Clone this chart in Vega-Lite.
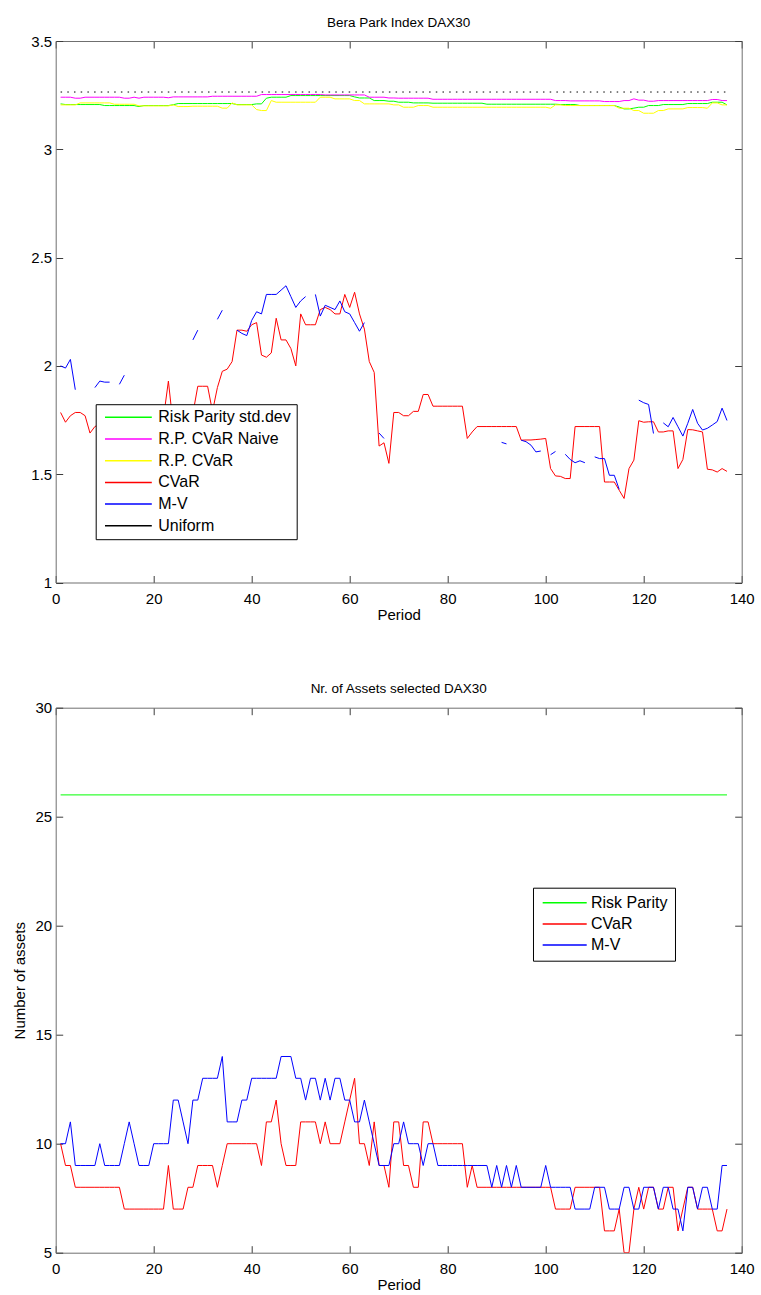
{
  "$schema": "https://vega.github.io/schema/vega-lite/v6.json",
  "background": "white",
  "padding": {"left": 11.7, "top": 15, "right": 5, "bottom": 0},
  "config": {
    "font": "Liberation Sans",
    "view": {"stroke": null},
    "axis": {"grid": false, "domainColor": "#6e6e6e", "tickColor": "#3c3c3c", "tickSize": -7, "labelFont": "Liberation Sans", "labelFontSize": 15, "labelColor": "#000000", "titleFont": "Liberation Sans", "titleFontSize": 15, "titleFontWeight": "normal", "titleColor": "#000000", "labelFlush": false, "labelPadding": 11},
    "axisX": {"labelPadding": 16, "titlePadding": 1},
    "axisY": {"titlePadding": 8},
    "title": {"font": "Liberation Sans", "fontSize": 13.5, "fontWeight": "normal", "color": "#000000", "offset": 5, "anchor": "middle", "frame": "group"},
    "legend": {"strokeColor": "#000000", "fillColor": "#ffffff", "labelFont": "Liberation Sans", "labelFontSize": 16, "labelColor": "#000000", "symbolSize": 144, "symbolStrokeWidth": 1.5}
  },
  "spacing": 58.7,
  "resolve": {"scale": {"color": "independent"}},
  "vconcat": [
    {
      "width": 686,
      "height": 541.5,
      "title": {"text": "Bera Park Index DAX30"},
      "data": {"values": [
        {"p":1,"RP":3.2097,"RPN":3.2405,"RPC":3.2051,"CVaR":1.785,"MV":2.0},
        {"p":2,"RP":3.2066,"RPN":3.2405,"RPC":3.2051,"CVaR":1.74,"MV":1.99},
        {"p":3,"RP":3.2066,"RPN":3.2405,"RPC":3.2051,"CVaR":1.77,"MV":2.03},
        {"p":4,"RP":3.2066,"RPN":3.236,"RPC":3.2051,"CVaR":1.785,"MV":1.89},
        {"p":5,"RP":3.2066,"RPN":3.236,"RPC":3.2143,"CVaR":1.785,"MV":null},
        {"p":6,"RP":3.2066,"RPN":3.2405,"RPC":3.2143,"CVaR":1.77,"MV":null},
        {"p":7,"RP":3.2066,"RPN":3.2405,"RPC":3.2143,"CVaR":1.69,"MV":null},
        {"p":8,"RP":3.2066,"RPN":3.2405,"RPC":3.2143,"CVaR":1.72,"MV":1.9},
        {"p":9,"RP":3.2066,"RPN":3.2405,"RPC":3.2143,"CVaR":1.73,"MV":1.93},
        {"p":10,"RP":3.202,"RPN":3.2405,"RPC":3.2143,"CVaR":1.75,"MV":1.925},
        {"p":11,"RP":3.202,"RPN":3.2405,"RPC":3.2143,"CVaR":1.76,"MV":1.925},
        {"p":12,"RP":3.202,"RPN":3.2405,"RPC":3.208,"CVaR":1.76,"MV":null},
        {"p":13,"RP":3.202,"RPN":3.2405,"RPC":3.208,"CVaR":1.76,"MV":1.915},
        {"p":14,"RP":3.202,"RPN":3.236,"RPC":3.208,"CVaR":1.74,"MV":1.957},
        {"p":15,"RP":3.202,"RPN":3.236,"RPC":3.208,"CVaR":1.72,"MV":null},
        {"p":16,"RP":3.202,"RPN":3.2405,"RPC":3.208,"CVaR":1.72,"MV":null},
        {"p":17,"RP":3.1974,"RPN":3.236,"RPC":3.2005,"CVaR":1.74,"MV":null},
        {"p":18,"RP":3.202,"RPN":3.2405,"RPC":3.2005,"CVaR":1.76,"MV":null},
        {"p":19,"RP":3.202,"RPN":3.2405,"RPC":3.2005,"CVaR":1.76,"MV":null},
        {"p":20,"RP":3.202,"RPN":3.2405,"RPC":3.2005,"CVaR":1.76,"MV":null},
        {"p":21,"RP":3.202,"RPN":3.2405,"RPC":3.2005,"CVaR":1.74,"MV":null},
        {"p":22,"RP":3.202,"RPN":3.2405,"RPC":3.2005,"CVaR":1.76,"MV":null},
        {"p":23,"RP":3.202,"RPN":3.238,"RPC":3.2005,"CVaR":1.93,"MV":null},
        {"p":24,"RP":3.206,"RPN":3.242,"RPC":3.2051,"CVaR":1.72,"MV":null},
        {"p":25,"RP":3.2113,"RPN":3.242,"RPC":3.1974,"CVaR":1.72,"MV":null},
        {"p":26,"RP":3.2113,"RPN":3.242,"RPC":3.1974,"CVaR":1.75,"MV":null},
        {"p":27,"RP":3.2113,"RPN":3.242,"RPC":3.1974,"CVaR":1.78,"MV":null},
        {"p":28,"RP":3.2113,"RPN":3.242,"RPC":3.199,"CVaR":1.78,"MV":2.12},
        {"p":29,"RP":3.2113,"RPN":3.242,"RPC":3.199,"CVaR":1.906,"MV":2.165},
        {"p":30,"RP":3.2113,"RPN":3.242,"RPC":3.199,"CVaR":1.906,"MV":null},
        {"p":31,"RP":3.2113,"RPN":3.242,"RPC":3.199,"CVaR":1.906,"MV":null},
        {"p":32,"RP":3.2113,"RPN":3.245,"RPC":3.199,"CVaR":1.79,"MV":null},
        {"p":33,"RP":3.2113,"RPN":3.245,"RPC":3.199,"CVaR":1.9,"MV":2.215},
        {"p":34,"RP":3.2113,"RPN":3.245,"RPC":3.19,"CVaR":1.975,"MV":2.257},
        {"p":35,"RP":3.2113,"RPN":3.245,"RPC":3.19,"CVaR":1.985,"MV":null},
        {"p":36,"RP":3.2113,"RPN":3.245,"RPC":3.2143,"CVaR":2.02,"MV":null},
        {"p":37,"RP":3.2066,"RPN":3.245,"RPC":3.2051,"CVaR":2.165,"MV":2.165},
        {"p":38,"RP":3.2066,"RPN":3.245,"RPC":3.2051,"CVaR":2.165,"MV":2.15},
        {"p":39,"RP":3.2066,"RPN":3.245,"RPC":3.2051,"CVaR":2.16,"MV":2.14},
        {"p":40,"RP":3.2066,"RPN":3.245,"RPC":3.2051,"CVaR":2.19,"MV":2.21},
        {"p":41,"RP":3.2097,"RPN":3.245,"RPC":3.1835,"CVaR":2.2,"MV":2.25},
        {"p":42,"RP":3.2097,"RPN":3.2528,"RPC":3.1789,"CVaR":2.05,"MV":2.24},
        {"p":43,"RP":3.236,"RPN":3.2528,"RPC":3.1789,"CVaR":2.04,"MV":2.33},
        {"p":44,"RP":3.2405,"RPN":3.2528,"RPC":3.2251,"CVaR":2.06,"MV":2.33},
        {"p":45,"RP":3.2405,"RPN":3.2528,"RPC":3.2174,"CVaR":2.22,"MV":2.33},
        {"p":46,"RP":3.2405,"RPN":3.2528,"RPC":3.2174,"CVaR":2.12,"MV":2.35},
        {"p":47,"RP":3.2405,"RPN":3.2528,"RPC":3.2174,"CVaR":2.12,"MV":2.37},
        {"p":48,"RP":3.2482,"RPN":3.2528,"RPC":3.2174,"CVaR":2.08,"MV":2.32},
        {"p":49,"RP":3.2482,"RPN":3.2528,"RPC":3.2174,"CVaR":2.0,"MV":2.27},
        {"p":50,"RP":3.2482,"RPN":3.2528,"RPC":3.2174,"CVaR":2.24,"MV":2.3},
        {"p":51,"RP":3.2482,"RPN":3.2528,"RPC":3.2174,"CVaR":2.19,"MV":2.32},
        {"p":52,"RP":3.2482,"RPN":3.2528,"RPC":3.2174,"CVaR":2.19,"MV":null},
        {"p":53,"RP":3.2482,"RPN":3.2528,"RPC":3.2174,"CVaR":2.19,"MV":2.33},
        {"p":54,"RP":3.2482,"RPN":3.2528,"RPC":3.2405,"CVaR":2.26,"MV":2.23},
        {"p":55,"RP":3.2482,"RPN":3.251,"RPC":3.2405,"CVaR":2.27,"MV":2.28},
        {"p":56,"RP":3.2482,"RPN":3.251,"RPC":3.2405,"CVaR":2.26,"MV":2.27},
        {"p":57,"RP":3.2482,"RPN":3.251,"RPC":3.2328,"CVaR":2.24,"MV":2.26},
        {"p":58,"RP":3.2482,"RPN":3.251,"RPC":3.2328,"CVaR":2.24,"MV":2.3},
        {"p":59,"RP":3.2482,"RPN":3.251,"RPC":3.2328,"CVaR":2.33,"MV":2.25},
        {"p":60,"RP":3.2482,"RPN":3.251,"RPC":3.2328,"CVaR":2.27,"MV":2.24},
        {"p":61,"RP":3.242,"RPN":3.251,"RPC":3.2251,"CVaR":2.34,"MV":2.2},
        {"p":62,"RP":3.237,"RPN":3.251,"RPC":3.2251,"CVaR":2.24,"MV":2.16},
        {"p":63,"RP":3.237,"RPN":3.251,"RPC":3.2097,"CVaR":2.17,"MV":2.2},
        {"p":64,"RP":3.237,"RPN":3.2405,"RPC":3.2097,"CVaR":2.02,"MV":null},
        {"p":65,"RP":3.2251,"RPN":3.2405,"RPC":3.2097,"CVaR":1.97,"MV":null},
        {"p":66,"RP":3.2251,"RPN":3.2405,"RPC":3.2097,"CVaR":1.63,"MV":1.69},
        {"p":67,"RP":3.2251,"RPN":3.2405,"RPC":3.2097,"CVaR":1.645,"MV":1.665},
        {"p":68,"RP":3.222,"RPN":3.237,"RPC":3.2097,"CVaR":1.55,"MV":null},
        {"p":69,"RP":3.222,"RPN":3.237,"RPC":3.2051,"CVaR":1.785,"MV":null},
        {"p":70,"RP":3.2174,"RPN":3.236,"RPC":3.2051,"CVaR":1.785,"MV":null},
        {"p":71,"RP":3.2174,"RPN":3.236,"RPC":3.1943,"CVaR":1.77,"MV":null},
        {"p":72,"RP":3.2174,"RPN":3.236,"RPC":3.1943,"CVaR":1.77,"MV":null},
        {"p":73,"RP":3.2143,"RPN":3.236,"RPC":3.1943,"CVaR":1.79,"MV":null},
        {"p":74,"RP":3.2143,"RPN":3.236,"RPC":3.202,"CVaR":1.79,"MV":null},
        {"p":75,"RP":3.2143,"RPN":3.236,"RPC":3.202,"CVaR":1.868,"MV":null},
        {"p":76,"RP":3.2143,"RPN":3.236,"RPC":3.202,"CVaR":1.868,"MV":null},
        {"p":77,"RP":3.2128,"RPN":3.231,"RPC":3.1943,"CVaR":1.814,"MV":null},
        {"p":78,"RP":3.2128,"RPN":3.231,"RPC":3.1943,"CVaR":1.814,"MV":null},
        {"p":79,"RP":3.2128,"RPN":3.231,"RPC":3.1943,"CVaR":1.814,"MV":null},
        {"p":80,"RP":3.2128,"RPN":3.231,"RPC":3.1943,"CVaR":1.814,"MV":null},
        {"p":81,"RP":3.2128,"RPN":3.231,"RPC":3.1943,"CVaR":1.814,"MV":null},
        {"p":82,"RP":3.2128,"RPN":3.231,"RPC":3.1943,"CVaR":1.814,"MV":null},
        {"p":83,"RP":3.2128,"RPN":3.231,"RPC":3.1943,"CVaR":1.814,"MV":null},
        {"p":84,"RP":3.2128,"RPN":3.231,"RPC":3.1943,"CVaR":1.665,"MV":null},
        {"p":85,"RP":3.2128,"RPN":3.231,"RPC":3.1943,"CVaR":1.695,"MV":null},
        {"p":86,"RP":3.2128,"RPN":3.231,"RPC":3.1943,"CVaR":1.72,"MV":null},
        {"p":87,"RP":3.2128,"RPN":3.231,"RPC":3.1943,"CVaR":1.72,"MV":null},
        {"p":88,"RP":3.2082,"RPN":3.231,"RPC":3.1943,"CVaR":1.72,"MV":null},
        {"p":89,"RP":3.2082,"RPN":3.231,"RPC":3.1943,"CVaR":1.72,"MV":null},
        {"p":90,"RP":3.2082,"RPN":3.231,"RPC":3.1943,"CVaR":1.72,"MV":null},
        {"p":91,"RP":3.2082,"RPN":3.231,"RPC":3.1943,"CVaR":1.72,"MV":1.647},
        {"p":92,"RP":3.2082,"RPN":3.231,"RPC":3.1943,"CVaR":1.72,"MV":1.64},
        {"p":93,"RP":3.2082,"RPN":3.231,"RPC":3.1943,"CVaR":1.72,"MV":null},
        {"p":94,"RP":3.2082,"RPN":3.231,"RPC":3.1943,"CVaR":1.72,"MV":null},
        {"p":95,"RP":3.2082,"RPN":3.231,"RPC":3.1943,"CVaR":1.657,"MV":1.657},
        {"p":96,"RP":3.2082,"RPN":3.231,"RPC":3.1943,"CVaR":1.658,"MV":1.65},
        {"p":97,"RP":3.2082,"RPN":3.231,"RPC":3.1943,"CVaR":1.658,"MV":1.634},
        {"p":98,"RP":3.2082,"RPN":3.231,"RPC":3.1943,"CVaR":1.66,"MV":1.603},
        {"p":99,"RP":3.2082,"RPN":3.231,"RPC":3.1943,"CVaR":1.662,"MV":1.607},
        {"p":100,"RP":3.2082,"RPN":3.231,"RPC":3.1943,"CVaR":1.665,"MV":null},
        {"p":101,"RP":3.2082,"RPN":3.231,"RPC":3.1897,"CVaR":1.526,"MV":1.59},
        {"p":102,"RP":3.2082,"RPN":3.225,"RPC":3.2051,"CVaR":1.492,"MV":1.605},
        {"p":103,"RP":3.2066,"RPN":3.225,"RPC":3.2051,"CVaR":1.49,"MV":null},
        {"p":104,"RP":3.2066,"RPN":3.225,"RPC":3.202,"CVaR":1.48,"MV":1.592},
        {"p":105,"RP":3.2066,"RPN":3.2236,"RPC":3.202,"CVaR":1.48,"MV":1.568},
        {"p":106,"RP":3.2066,"RPN":3.2236,"RPC":3.202,"CVaR":1.72,"MV":1.553},
        {"p":107,"RP":3.202,"RPN":3.2236,"RPC":3.202,"CVaR":1.72,"MV":1.562},
        {"p":108,"RP":3.202,"RPN":3.2236,"RPC":3.202,"CVaR":1.72,"MV":1.553},
        {"p":109,"RP":3.202,"RPN":3.2236,"RPC":3.202,"CVaR":1.72,"MV":null},
        {"p":110,"RP":3.202,"RPN":3.2236,"RPC":3.202,"CVaR":1.72,"MV":1.58},
        {"p":111,"RP":3.202,"RPN":3.2236,"RPC":3.202,"CVaR":1.72,"MV":1.572},
        {"p":112,"RP":3.202,"RPN":3.2205,"RPC":3.202,"CVaR":1.464,"MV":1.572},
        {"p":113,"RP":3.202,"RPN":3.2205,"RPC":3.202,"CVaR":1.464,"MV":1.495},
        {"p":114,"RP":3.202,"RPN":3.2205,"RPC":3.202,"CVaR":1.464,"MV":1.495},
        {"p":115,"RP":3.195,"RPN":3.2205,"RPC":3.1897,"CVaR":1.426,"MV":1.43},
        {"p":116,"RP":3.1866,"RPN":3.225,"RPC":3.1897,"CVaR":1.388,"MV":null},
        {"p":117,"RP":3.1866,"RPN":3.225,"RPC":3.1897,"CVaR":1.526,"MV":null},
        {"p":118,"RP":3.19,"RPN":3.233,"RPC":3.1789,"CVaR":1.565,"MV":null},
        {"p":119,"RP":3.1943,"RPN":3.227,"RPC":3.1789,"CVaR":1.747,"MV":1.842},
        {"p":120,"RP":3.1943,"RPN":3.227,"RPC":3.1666,"CVaR":1.74,"MV":1.83},
        {"p":121,"RP":3.202,"RPN":3.222,"RPC":3.1666,"CVaR":1.742,"MV":1.822},
        {"p":122,"RP":3.202,"RPN":3.222,"RPC":3.1666,"CVaR":1.742,"MV":1.688},
        {"p":123,"RP":3.202,"RPN":3.225,"RPC":3.1789,"CVaR":1.695,"MV":null},
        {"p":124,"RP":3.2066,"RPN":3.225,"RPC":3.1789,"CVaR":1.695,"MV":1.737},
        {"p":125,"RP":3.2066,"RPN":3.225,"RPC":3.1866,"CVaR":1.7,"MV":1.719},
        {"p":126,"RP":3.2066,"RPN":3.225,"RPC":3.1866,"CVaR":1.7,"MV":1.762},
        {"p":127,"RP":3.2066,"RPN":3.225,"RPC":3.1866,"CVaR":1.526,"MV":1.719},
        {"p":128,"RP":3.2066,"RPN":3.225,"RPC":3.1866,"CVaR":1.568,"MV":1.676},
        {"p":129,"RP":3.2113,"RPN":3.225,"RPC":3.1928,"CVaR":1.706,"MV":1.735},
        {"p":130,"RP":3.2113,"RPN":3.225,"RPC":3.1928,"CVaR":1.705,"MV":1.799},
        {"p":131,"RP":3.2113,"RPN":3.225,"RPC":3.1928,"CVaR":1.7,"MV":1.735},
        {"p":132,"RP":3.2113,"RPN":3.225,"RPC":3.1928,"CVaR":1.695,"MV":1.704},
        {"p":133,"RP":3.2113,"RPN":3.225,"RPC":3.1897,"CVaR":1.523,"MV":1.712},
        {"p":134,"RP":3.2174,"RPN":3.23,"RPC":3.2143,"CVaR":1.52,"MV":1.727},
        {"p":135,"RP":3.2174,"RPN":3.23,"RPC":3.2143,"CVaR":1.51,"MV":1.743},
        {"p":136,"RP":3.2174,"RPN":3.225,"RPC":3.2051,"CVaR":1.526,"MV":1.805},
        {"p":137,"RP":3.2051,"RPN":3.225,"RPC":3.2051,"CVaR":1.513,"MV":1.748}
      ]},
      "layer": [
        {
          "transform": [{"fold": ["RP", "RPN", "RPC", "CVaR", "MV"], "as": ["series", "value"]}],
          "mark": {"type": "line", "strokeWidth": 1, "clip": true},
          "encoding": {
            "x": {"field": "p", "type": "quantitative", "scale": {"domain": [0, 140], "nice": false}, "axis": {"values": [0, 20, 40, 60, 80, 100, 120, 140], "title": "Period"}},
            "y": {"field": "value", "type": "quantitative", "scale": {"domain": [1, 3.5], "nice": false, "zero": false}, "axis": {"values": [1, 1.5, 2, 2.5, 3, 3.5], "format": "~g", "title": null}},
            "color": {"field": "series", "type": "nominal",
              "scale": {"domain": ["RP", "RPN", "RPC", "CVaR", "MV", "U"], "range": ["#00ff00", "#ff00ff", "#ffff00", "#ff0000", "#0000ff", "#000000"]},
              "legend": {"title": null, "orient": "none", "legendX": 40, "legendY": 363.2, "padding": 5.1, "rowPadding": 5.7, "symbolType": "M-3.9,0H3.9", "symbolOffset": 19.6, "labelOffset": 21.9,
                "labelExpr": "{'RP':'Risk Parity std.dev','RPN':'R.P. CVaR Naive','RPC':'R.P. CVaR','CVaR':'CVaR','MV':'M-V','U':'Uniform'}[datum.label]"}}
          }
        },
        {
          "data": {"values": [{"p": 1, "series": "U", "value": 3.2645}, {"p": 137, "series": "U", "value": 3.2645}]},
          "mark": {"type": "line", "strokeWidth": 1, "strokeDash": [1.5, 5.2]},
          "encoding": {
            "x": {"field": "p", "type": "quantitative", "axis": {"orient": "top", "values": [0, 20, 40, 60, 80, 100, 120, 140], "labels": false, "title": null}},
            "y": {"field": "value", "type": "quantitative", "axis": {"orient": "right", "values": [1, 1.5, 2, 2.5, 3, 3.5], "labels": false, "title": null}},
            "color": {"field": "series", "type": "nominal"}
          }
        }
      ],
      "resolve": {"axis": {"x": "independent", "y": "independent"}}
    },
    {
      "width": 686,
      "height": 545,
      "title": {"text": "Nr. of Assets selected DAX30"},
      "data": {"values": [
        {"p":1,"CVaR":10,"MV":10},{"p":2,"CVaR":9,"MV":10},{"p":3,"CVaR":9,"MV":11},{"p":4,"CVaR":8,"MV":9},
        {"p":5,"CVaR":8,"MV":9},{"p":6,"CVaR":8,"MV":9},{"p":7,"CVaR":8,"MV":9},{"p":8,"CVaR":8,"MV":9},
        {"p":9,"CVaR":8,"MV":10},{"p":10,"CVaR":8,"MV":9},{"p":11,"CVaR":8,"MV":9},{"p":12,"CVaR":8,"MV":9},
        {"p":13,"CVaR":8,"MV":9},{"p":14,"CVaR":7,"MV":10},{"p":15,"CVaR":7,"MV":11},{"p":16,"CVaR":7,"MV":10},
        {"p":17,"CVaR":7,"MV":9},{"p":18,"CVaR":7,"MV":9},{"p":19,"CVaR":7,"MV":9},{"p":20,"CVaR":7,"MV":10},
        {"p":21,"CVaR":7,"MV":10},{"p":22,"CVaR":7,"MV":10},{"p":23,"CVaR":9,"MV":10},{"p":24,"CVaR":7,"MV":12},
        {"p":25,"CVaR":7,"MV":12},{"p":26,"CVaR":7,"MV":11},{"p":27,"CVaR":8,"MV":10},{"p":28,"CVaR":8,"MV":12},
        {"p":29,"CVaR":9,"MV":12},{"p":30,"CVaR":9,"MV":13},{"p":31,"CVaR":9,"MV":13},{"p":32,"CVaR":9,"MV":13},
        {"p":33,"CVaR":8,"MV":13},{"p":34,"CVaR":9,"MV":14},{"p":35,"CVaR":10,"MV":11},{"p":36,"CVaR":10,"MV":11},
        {"p":37,"CVaR":10,"MV":11},{"p":38,"CVaR":10,"MV":12},{"p":39,"CVaR":10,"MV":12},{"p":40,"CVaR":10,"MV":13},
        {"p":41,"CVaR":10,"MV":13},{"p":42,"CVaR":9,"MV":13},{"p":43,"CVaR":11,"MV":13},{"p":44,"CVaR":11,"MV":13},
        {"p":45,"CVaR":12,"MV":13},{"p":46,"CVaR":10,"MV":14},{"p":47,"CVaR":9,"MV":14},{"p":48,"CVaR":9,"MV":14},
        {"p":49,"CVaR":9,"MV":13},{"p":50,"CVaR":11,"MV":13},{"p":51,"CVaR":11,"MV":12},{"p":52,"CVaR":11,"MV":13},
        {"p":53,"CVaR":11,"MV":13},{"p":54,"CVaR":10,"MV":12},{"p":55,"CVaR":11,"MV":13},{"p":56,"CVaR":10,"MV":12},
        {"p":57,"CVaR":10,"MV":13},{"p":58,"CVaR":10,"MV":13},{"p":59,"CVaR":11,"MV":12},{"p":60,"CVaR":12,"MV":12},
        {"p":61,"CVaR":13,"MV":11},{"p":62,"CVaR":10,"MV":11},{"p":63,"CVaR":10,"MV":12},{"p":64,"CVaR":9,"MV":11},
        {"p":65,"CVaR":11,"MV":10},{"p":66,"CVaR":9,"MV":9},{"p":67,"CVaR":9,"MV":9},{"p":68,"CVaR":8,"MV":9},
        {"p":69,"CVaR":11,"MV":10},{"p":70,"CVaR":11,"MV":10},{"p":71,"CVaR":9,"MV":11},{"p":72,"CVaR":9,"MV":10},
        {"p":73,"CVaR":8,"MV":10},{"p":74,"CVaR":8,"MV":10},{"p":75,"CVaR":11,"MV":9},{"p":76,"CVaR":11,"MV":10},
        {"p":77,"CVaR":10,"MV":10},{"p":78,"CVaR":10,"MV":9},{"p":79,"CVaR":10,"MV":9},{"p":80,"CVaR":10,"MV":9},
        {"p":81,"CVaR":10,"MV":9},{"p":82,"CVaR":10,"MV":9},{"p":83,"CVaR":10,"MV":9},{"p":84,"CVaR":8,"MV":9},
        {"p":85,"CVaR":9,"MV":9},{"p":86,"CVaR":8,"MV":9},{"p":87,"CVaR":8,"MV":9},{"p":88,"CVaR":8,"MV":9},
        {"p":89,"CVaR":8,"MV":8},{"p":90,"CVaR":8,"MV":9},{"p":91,"CVaR":8,"MV":8},{"p":92,"CVaR":8,"MV":9},
        {"p":93,"CVaR":8,"MV":8},{"p":94,"CVaR":8,"MV":9},{"p":95,"CVaR":8,"MV":8},{"p":96,"CVaR":8,"MV":8},
        {"p":97,"CVaR":8,"MV":8},{"p":98,"CVaR":8,"MV":8},{"p":99,"CVaR":8,"MV":8},{"p":100,"CVaR":8,"MV":9},
        {"p":101,"CVaR":8,"MV":8},{"p":102,"CVaR":7,"MV":8},{"p":103,"CVaR":7,"MV":8},{"p":104,"CVaR":7,"MV":8},
        {"p":105,"CVaR":7,"MV":8},{"p":106,"CVaR":8,"MV":7},{"p":107,"CVaR":8,"MV":7},{"p":108,"CVaR":8,"MV":7},
        {"p":109,"CVaR":8,"MV":7},{"p":110,"CVaR":8,"MV":8},{"p":111,"CVaR":8,"MV":8},{"p":112,"CVaR":6,"MV":8},
        {"p":113,"CVaR":6,"MV":7},{"p":114,"CVaR":6,"MV":7},{"p":115,"CVaR":7,"MV":7},{"p":116,"CVaR":5,"MV":8},
        {"p":117,"CVaR":5,"MV":8},{"p":118,"CVaR":7,"MV":7},{"p":119,"CVaR":8,"MV":7},{"p":120,"CVaR":7,"MV":8},
        {"p":121,"CVaR":8,"MV":8},{"p":122,"CVaR":8,"MV":8},{"p":123,"CVaR":7,"MV":7},{"p":124,"CVaR":7,"MV":8},
        {"p":125,"CVaR":8,"MV":8},{"p":126,"CVaR":8,"MV":7},{"p":127,"CVaR":6,"MV":7},{"p":128,"CVaR":7,"MV":6},
        {"p":129,"CVaR":8,"MV":8},{"p":130,"CVaR":8,"MV":8},{"p":131,"CVaR":7,"MV":7},{"p":132,"CVaR":7,"MV":8},
        {"p":133,"CVaR":7,"MV":8},{"p":134,"CVaR":7,"MV":7},{"p":135,"CVaR":6,"MV":7},{"p":136,"CVaR":6,"MV":9},
        {"p":137,"CVaR":7,"MV":9}
      ]},
      "layer": [
        {
          "transform": [{"fold": ["CVaR", "MV"], "as": ["series", "value"]}],
          "mark": {"type": "line", "strokeWidth": 1, "clip": true},
          "encoding": {
            "x": {"field": "p", "type": "quantitative", "scale": {"domain": [0, 140], "nice": false}, "axis": {"values": [0, 20, 40, 60, 80, 100, 120, 140], "title": "Period"}},
            "y": {"field": "value", "type": "quantitative", "scale": {"domain": [5, 30], "nice": false, "zero": false}, "axis": {"values": [5, 10, 15, 20, 25, 30], "title": "Number of assets"}},
            "color": {"field": "series", "type": "nominal",
              "scale": {"domain": ["RP", "CVaR", "MV"], "range": ["#00ff00", "#ff0000", "#0000ff"]},
              "legend": {"title": null, "orient": "none", "legendX": 477.3, "legendY": 180, "padding": 7, "rowPadding": 5.2, "symbolType": "M-3.67,0H3.67", "symbolOffset": 16.7, "labelOffset": 18.3,
                "labelExpr": "{'RP':'Risk Parity','CVaR':'CVaR','MV':'M-V'}[datum.label]"}}
          }
        },
        {
          "data": {"values": [{"p": 1, "series": "RP", "value": 26}, {"p": 137, "series": "RP", "value": 26}]},
          "mark": {"type": "line", "strokeWidth": 1},
          "encoding": {
            "x": {"field": "p", "type": "quantitative", "axis": {"orient": "top", "values": [0, 20, 40, 60, 80, 100, 120, 140], "labels": false, "title": null}},
            "y": {"field": "value", "type": "quantitative", "axis": {"orient": "right", "values": [5, 10, 15, 20, 25, 30], "labels": false, "title": null}},
            "color": {"field": "series", "type": "nominal"}
          }
        }
      ],
      "resolve": {"axis": {"x": "independent", "y": "independent"}}
    }
  ]
}
